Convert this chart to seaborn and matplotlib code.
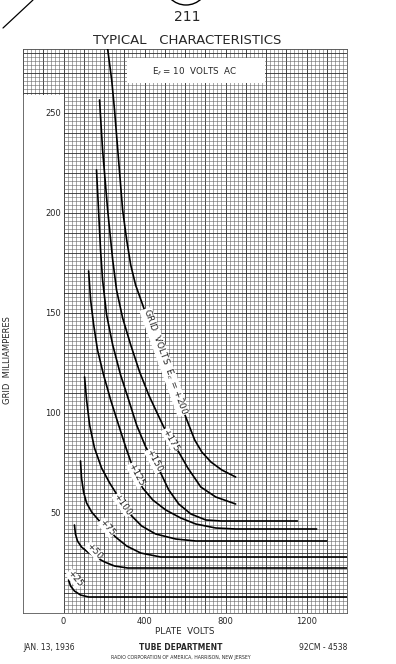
import numpy as np
import pandas as pd
import seaborn as sns
import matplotlib.pyplot as plt
from matplotlib.patches import Rectangle, Ellipse
from matplotlib.lines import Line2D

# grid current curves, one per grid voltage (plate volts, grid mA)
ec_200_v = [218, 238, 252, 272, 292, 312, 332, 356, 386, 421, 460, 500, 540, 579, 619, 648, 683, 728, 782, 850]
ec_200_ma = [282, 266.5, 251.5, 226.5, 201.5, 186.5, 174, 164, 155.5, 145.5, 135.5, 125.5, 115, 104.5, 94, 86.5, 80.5, 75.5, 71.5, 68]

ec_175_v = [178, 193, 218, 243, 262, 292, 332, 376, 421, 460, 495, 530, 569, 614, 678, 752, 850]
ec_175_ma = [256.5, 231.5, 201.5, 176.5, 161.5, 147.5, 134, 120.5, 109, 100.5, 93, 86.5, 80.5, 72.5, 63, 58, 54.5]

ec_150_v = [163, 173, 183, 193, 213, 243, 282, 322, 361, 406, 446, 480, 520, 569, 629, 703, 777, 1155]
ec_150_ma = [221.5, 201.5, 181.5, 166.5, 149, 134, 119, 106.5, 94, 83, 76, 70, 61.5, 54.5, 49.5, 46.5, 46, 46]

ec_125_v = [124, 134, 149, 168, 198, 233, 272, 312, 356, 391, 441, 505, 579, 653, 752, 850, 1250]
ec_125_ma = [171, 156.5, 144, 131.5, 119, 106.5, 94, 81.5, 69, 62.5, 56.5, 51.5, 47.5, 44.5, 42.5, 42, 42]

ec_100_v = [104, 114, 129, 153, 188, 228, 262, 297, 337, 386, 455, 554, 653, 1300]
ec_100_ma = [118, 106.5, 94, 82.5, 72.5, 65, 59.5, 54, 48.5, 43.5, 39.5, 37, 36, 36]

ec_75_v = [84, 89, 99, 114, 139, 173, 213, 257, 312, 381, 480, 1400]
ec_75_ma = [76, 67.5, 60.5, 55, 50.5, 46.5, 42.5, 38, 33.5, 30, 28, 28]

ec_50_v = [54, 59, 69, 89, 119, 158, 203, 252, 317, 1400]
ec_50_ma = [44, 39.5, 36, 33, 30.5, 28, 25.5, 23.5, 22.5, 22.5]

ec_25_v = [25, 35, 54, 84, 124, 1400]
ec_25_ma = [16.5, 13.5, 11, 9, 8, 8]

grid_volts = [200, 175, 150, 125, 100, 75, 50, 25]
curve_v = [ec_200_v, ec_175_v, ec_150_v, ec_125_v, ec_100_v, ec_75_v, ec_50_v, ec_25_v]
curve_ma = [ec_200_ma, ec_175_ma, ec_150_ma, ec_125_ma, ec_100_ma, ec_75_ma, ec_50_ma, ec_25_ma]

# curve labels written along the lines
label_text = ["GRID  VOLTS  E$_c$ = +200", "+175", "+150", "+125", "+100", "+75", "+50", "+25"]
label_v = [500, 530, 446, 356, 292, 213, 150, 55]
label_ma = [125.5, 86.5, 76, 69, 54, 42.5, 31, 17]
label_rot = [-70, -60, -62, -62, -55, -50, -48, -50]

y_labels = [50, 100, 150, 200, 250]
x_labels = [0, 400, 800, 1200]

frames = []
for ec, v, ma in zip(grid_volts, curve_v, curve_ma):
    frames.append(pd.DataFrame({"plate_v": v, "grid_ma": ma, "ec": ec}))
df = pd.concat(frames, ignore_index=True)

sns.set_style("white")
plt.rcParams['font.family'] = ['DejaVu Sans']

fig = plt.figure(figsize=(3.96, 6.64), dpi=100)
ax = fig.add_axes([23 / 396, 51 / 664, 324 / 396, 564 / 664])

# graph paper
ax.set_xlim(-200, 1400)
ax.set_ylim(0, 282)
xt = np.arange(-200, 1401, 100)
ax.set_xticks(xt)
ax.set_xticks(np.arange(-200, 1401, 20), minor=True)
ax.set_xticklabels([str(t) if t in x_labels else "" for t in xt])
ax.set_yticks(np.arange(0, 283, 10))
ax.set_yticks(np.arange(0, 283, 2), minor=True)
ax.set_yticklabels([])
ax.tick_params(which="both", length=0)
ax.tick_params(axis="x", pad=3, labelsize=6)
ax.set_axisbelow(True)
ax.grid(which="minor", color="#666666", lw=0.4)
ax.grid(which="major", color="#2a2a2a", lw=0.6)
for s in ax.spines.values():
    s.set_color("#555555")
    s.set_linewidth(0.6)

# white strip for the grid current scale, and the heater box
ax.add_patch(Rectangle((-200, 0), 200, 259, facecolor="white", edgecolor="none", zorder=1))
ax.add_patch(Rectangle((312, 265), 683, 12.5, facecolor="white", edgecolor="none", zorder=1))
ax.text(648, 270.5, "E$_f$ = 10  VOLTS  AC", fontsize=6.3, ha="center", va="center", zorder=4)

for y in y_labels:
    ax.text(-12, y, str(y), fontsize=6, ha="right", va="center", zorder=4)

sns.lineplot(data=df, x="plate_v", y="grid_ma", units="ec", estimator=None, sort=False,
             color="black", lw=1.2, ax=ax, legend=False, zorder=3)
ax.set_xlabel("")
ax.set_ylabel("")

for t, v, ma, r in zip(label_text, label_v, label_ma, label_rot):
    ax.text(v, ma, t, fontsize=6.5, rotation=r, ha="center", va="center", zorder=4,
            rotation_mode="anchor",
            bbox=dict(facecolor="white", edgecolor="none", pad=0.2))

# page text
fig.text(187 / 396, 1 - 17 / 664, "211", fontsize=10, ha="center", va="center")
fig.add_artist(Ellipse((186 / 396, 1 + 17 / 664), 44 / 396, 44 / 664, fill=False,
                       lw=1.0, color="black", transform=fig.transFigure))
fig.add_artist(Line2D([3 / 396, 33 / 396], [1 - 28 / 664, 1.0], color="black", lw=0.9,
                      transform=fig.transFigure))
fig.text(187 / 396, 1 - 40 / 664, "TYPICAL   CHARACTERISTICS", fontsize=9.5,
         ha="center", va="center")
fig.text(185 / 396, 1 - 632 / 664, "PLATE  VOLTS", fontsize=6.3, ha="center", va="center")
fig.text(8 / 396, 1 - 360 / 664, "GRID  MILLIAMPERES", fontsize=6, rotation=90,
         ha="center", va="center")

narrow = ["Liberation Sans Narrow", "DejaVu Sans"]
fig.text(23 / 396, 1 - 648 / 664, "JAN. 13, 1936", fontsize=5.5, ha="left", va="center")
fig.text(181 / 396, 1 - 647 / 664, "TUBE DEPARTMENT", fontsize=5.5, weight="bold",
         family=narrow, ha="center", va="center")
fig.text(181 / 396, 1 - 657 / 664, "RADIO CORPORATION OF AMERICA, HARRISON, NEW JERSEY",
         fontsize=3.3, family=narrow, ha="center", va="center")
fig.text(347 / 396, 1 - 648 / 664, "92CM - 4538", fontsize=5.5, ha="right", va="center")

fig.savefig("out.png", dpi=100, facecolor="white")
